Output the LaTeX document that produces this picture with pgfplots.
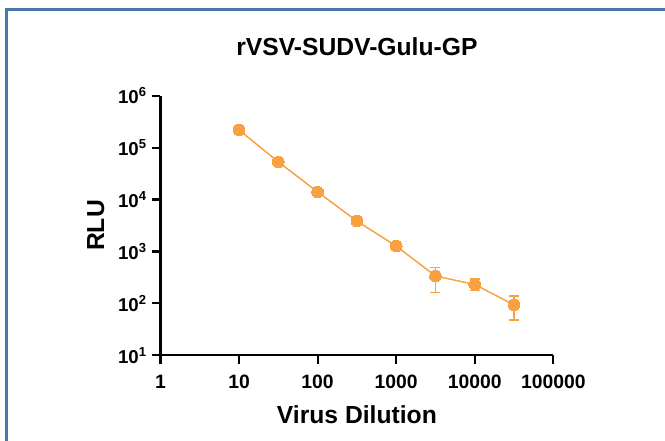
\documentclass[border=0pt]{standalone}
\usepackage{fontspec}
\setmainfont{Liberation Sans}
\usepackage{pgfplots}
\pgfplotsset{compat=1.18}
\definecolor{frameblue}{HTML}{4A78A8}
\definecolor{dataorange}{HTML}{F9A03F}
\begin{document}
\begin{tikzpicture}
\useasboundingbox (-120.375pt,-64.275pt) rectangle (378.375pt,266.475pt);
\draw[frameblue, line width=1.9pt] (-115.65pt,-80pt) -- (-115.65pt,259.5pt) -- (400pt,259.5pt);
\begin{axis}[
  at={(0pt,0pt)}, anchor=south west,
  scale only axis, width=294.6pt, height=194.7pt,
  xmode=log, ymode=log,
  xmin=1, xmax=100000, ymin=10, ymax=1000000,
  axis x line*=bottom, axis y line*=left,
  axis line style={-, line width=1.6pt, black},
  xtick={1,10,100,1000,10000,100000},
  xticklabels={1,10,100,1000,10000,100000},
  ytick={10,100,1000,10000,100000,1000000},
  yticklabels={10\textsuperscript{1},10\textsuperscript{2},10\textsuperscript{3},10\textsuperscript{4},10\textsuperscript{5},10\textsuperscript{6}},
  tick align=outside, major tick length=6.75pt, minor tick length=0pt,
  major tick style={line width=1.6pt, black},
  xticklabel style={font=\bfseries\fontsize{14.5}{16}\selectfont, yshift=-4.5pt},
  yticklabel style={font=\bfseries\fontsize{14}{16}\selectfont},
  title={rVSV-SUDV-Gulu-GP},
  title style={font=\bfseries\fontsize{18.5}{21}\selectfont, at={(axis description cs:0.5,1.124)}, anchor=base, yshift=0pt},
  xlabel={Virus Dilution},
  xlabel style={font=\bfseries\fontsize{18.5}{21}\selectfont, at={(axis description cs:0.5,-0.261)}, anchor=base, yshift=0pt},
  ylabel={RLU},
  ylabel style={font=\bfseries\fontsize{18.5}{21}\selectfont, at={(axis description cs:-0.165,0.5)}, anchor=center},
  clip=false,
]
\addplot[color=dataorange, line width=1.1pt, mark=*, mark size=4.4pt,
  mark options={fill=dataorange, draw=dataorange, line width=0pt},
  error bars/.cd, y dir=both, y explicit,
  error bar style={line width=1.1pt, dataorange},
  error mark options={rotate=90, mark size=3.75pt, line width=1.1pt, dataorange}]
coordinates {
  (10,218000)
  (31.62,53000)
  (100,14000)
  (316.2,3850)
  (1000,1270)
  (3162,336) += (0,158) -= (0,173)
  (10000,232) += (0,62) -= (0,57)
  (31623,93) += (0,45) -= (0,45)
};
\end{axis}
\end{tikzpicture}
\end{document}
